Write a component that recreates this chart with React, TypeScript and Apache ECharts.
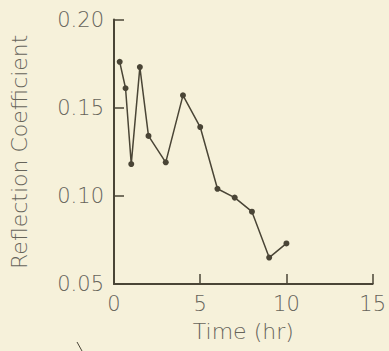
import React, { useEffect, useRef } from "react";
import * as echarts from "echarts";

const timeHr = [0.33, 0.67, 1, 1.5, 2, 3, 4, 5, 6, 7, 8, 9, 10];
const reflection = [0.176, 0.161, 0.118, 0.173, 0.134, 0.119, 0.157, 0.139, 0.104, 0.099, 0.091, 0.065, 0.073];
const xTicks = [0, 5, 10, 15];
const yTicks = [0.05, 0.1, 0.15, 0.2];

const INK = "#4a4536";
const TEXT = "#66645a";
const FONT = "'DejaVu Sans', sans-serif";

export default function App() {
  const ref = useRef<HTMLDivElement>(null);
  useEffect(() => {
    if (!ref.current) return;
    const chart = echarts.init(ref.current, undefined, { renderer: "svg" });
    const data = timeHr.map((t, i) => [t, reflection[i]]);
    chart.setOption({
      animation: false,
      backgroundColor: "#f6f1da",
      grid: { left: 110, top: 19.5, right: 13, bottom: 67 },
      xAxis: {
        type: "value",
        min: xTicks[0],
        max: xTicks[xTicks.length - 1],
        interval: 5,
        name: "Time (hr)",
        nameLocation: "middle",
        nameGap: 36,
        nameTextStyle: { color: TEXT, fontSize: 22, fontFamily: FONT, fontWeight: 200 },
        axisLine: { lineStyle: { color: INK, width: 2 } },
        axisTick: { inside: true, length: 10, lineStyle: { color: INK, width: 1.5 } },
        axisLabel: {
          color: TEXT,
          fontSize: 21,
          fontFamily: FONT,
          fontWeight: 200,
          margin: 9,
          formatter: (v: number) => (xTicks.includes(v) ? String(v) : ""),
        },
        splitLine: { show: false },
      },
      yAxis: {
        type: "value",
        min: yTicks[0],
        max: yTicks[yTicks.length - 1],
        interval: 0.05,
        name: "Reflection Coefficient",
        nameLocation: "middle",
        nameGap: 84,
        nameRotate: 90,
        nameTextStyle: { color: TEXT, fontSize: 22, fontFamily: FONT, fontWeight: 200 },
        axisLine: { lineStyle: { color: INK, width: 2 } },
        axisTick: { inside: true, length: 10, lineStyle: { color: INK, width: 1.5 } },
        axisLabel: {
          color: TEXT,
          fontSize: 21,
          fontFamily: FONT,
          fontWeight: 200,
          margin: 10,
          formatter: (v: number) => v.toFixed(2),
        },
        splitLine: { show: false },
      },
      graphic: [
        {
          type: "line",
          shape: { x1: 77, y1: 342, x2: 82, y2: 351 },
          style: { stroke: INK, lineWidth: 1 },
        },
      ],
      series: [
        {
          type: "line",
          data,
          symbol: "circle",
          symbolSize: 6,
          itemStyle: { color: INK },
          lineStyle: { color: INK, width: 1.5 },
        },
      ],
    });
    return () => chart.dispose();
  }, []);
  return <div ref={ref} style={{ width: 389, height: 351, position: "absolute", left: 0, top: 0 }} />;
}
